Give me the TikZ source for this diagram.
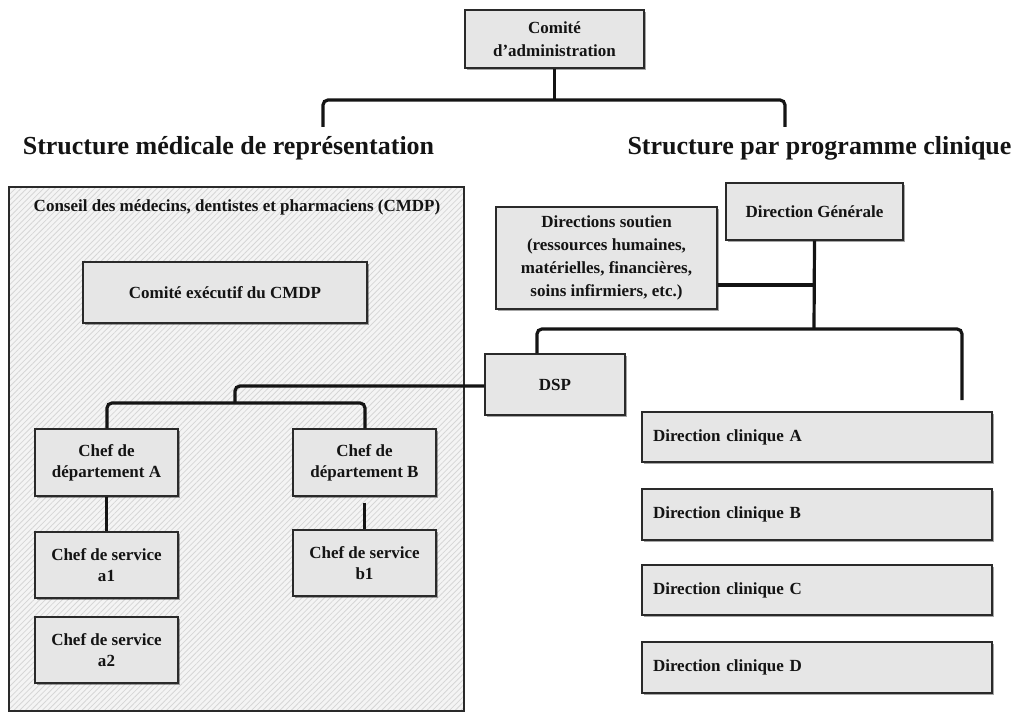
\documentclass[tikz,border=0pt]{standalone}
\usepackage{fontspec}
\setmainfont{Liberation Serif}
\usetikzlibrary{shadows,patterns.meta}

\definecolor{boxfill}{HTML}{E6E6E6}
\definecolor{boxline}{HTML}{2A2A2A}
\definecolor{inkcol}{HTML}{141414}
\definecolor{hatchbg}{HTML}{F4F4F4}
\definecolor{hatchln}{HTML}{D6D6D6}

\tikzset{
  orgbox/.style={draw=boxline, line width=1.3bp, fill=boxfill, text=inkcol,
    align=center, inner sep=0pt,
    font=\fontsize{17bp}{21bp}\selectfont\bfseries,
    drop shadow={shadow xshift=1.8bp, shadow yshift=-1.8bp, fill=black, opacity=0.35}},
  leftbox/.style={orgbox, align=left, text width=328bp, inner xsep=11bp,
    minimum width=350bp},
  link/.style={line width=3.2bp, draw=black!92, rounded corners=5bp},
  heading/.style={font=\fontsize{26bp}{30bp}\selectfont\bfseries, text=inkcol, anchor=base, inner sep=0pt},
}

\begin{document}
\begin{tikzpicture}[x=1bp,y=-1bp]
\useasboundingbox (0,0) rectangle (1019,713);

% hatched council frame
\fill[hatchbg] (9,187) rectangle (464,711);
\fill[pattern={Lines[angle=45,distance=4bp,line width=0.8bp]}, pattern color=hatchln]
  (9,187) rectangle (464,711);
\draw[boxline, line width=1.3bp] (9,187) rectangle (464,711);
\node[anchor=base, inner sep=0pt, text=inkcol, font=\fontsize{17bp}{21bp}\selectfont\bfseries]
  (cmdp) at (237,211) {Conseil des médecins, dentistes et pharmaciens (CMDP)};

% headings
\node[heading] (hleft) at (228.5,155) {Structure médicale de représentation};
\node[heading] (hright) at (819.5,155) {Structure par programme clinique};

% boxes
\node[orgbox, minimum width=179bp, minimum height=58bp,
  font=\fontsize{17bp}{23bp}\selectfont\bfseries] (adm) at (554.5,39)
  {Comité\\d’administration};
\node[orgbox, minimum width=284bp, minimum height=61bp] (cex) at (225,292.5)
  {Comité exécutif du CMDP};
\node[orgbox, minimum width=143bp, minimum height=67bp] (depA) at (106.5,462.5)
  {Chef de\\département A};
\node[orgbox, minimum width=143bp, minimum height=67bp] (depB) at (364.5,462.5)
  {Chef de\\département B};
\node[orgbox, minimum width=143bp, minimum height=66bp] (sa1) at (106.5,565)
  {Chef de service\\a1};
\node[orgbox, minimum width=143bp, minimum height=66bp] (sb1) at (364.5,563)
  {Chef de service\\b1};
\node[orgbox, minimum width=143bp, minimum height=66bp] (sa2) at (106.5,650)
  {Chef de service\\a2};
\node[orgbox, minimum width=140bp, minimum height=61bp] (dsp) at (555,384.5) {DSP};
\node[orgbox, minimum width=177bp, minimum height=57bp] (dg) at (814.5,211.5)
  {Direction Générale};
\node[orgbox, minimum width=221bp, minimum height=102bp,
  font=\fontsize{17bp}{23bp}\selectfont\bfseries] (ds) at (606.5,258)
  {Directions soutien\\(ressources humaines,\\matérielles, financières,\\soins infirmiers, etc.)};
\node[leftbox, minimum height=50bp] (dcA) at (817,437) {Direction clinique A};
\node[leftbox, minimum height=51bp] (dcB) at (817,514.5) {Direction clinique B};
\node[leftbox, minimum height=50bp] (dcC) at (817,590) {Direction clinique C};
\node[leftbox, minimum height=51bp] (dcD) at (817,667.5) {Direction clinique D};

% free ends of the open brackets
\coordinate (admL) at (323,127);
\coordinate (admR) at (785,127);
\coordinate (dgR) at (962,400);

% connectors
\draw[link] (adm.south) -- (554.5,100);
\draw[link] (admL) -- (323,100) -- (785,100) -- (admR);

\draw[link] (dg.south) -- (814,329);
\draw[link] (ds.east |- 0,285) -- (814,285);
\draw[link] (dsp.north -| 537,0) -- (537,329) -- (962,329) -- (dgR);

\draw[link] (dsp.west |- 0,386) -- (235,386) -- (235,403);
\draw[link] (depA.north -| 107,0) -- (107,403) -- (365,403) -- (depB.north -| 365,0);

\draw[link] (depA.south) -- (sa1.north);
\draw[link] ([yshift=-6bp]depB.south) -- (sb1.north);
\end{tikzpicture}
\end{document}
